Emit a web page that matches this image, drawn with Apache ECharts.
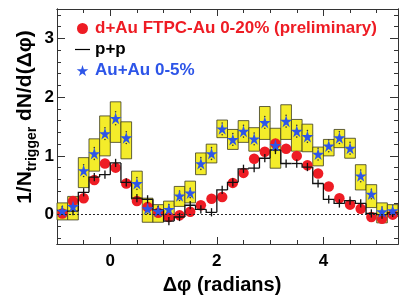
<!DOCTYPE html>
<html>
<head>
<meta charset="utf-8">
<script src="https://cdn.jsdelivr.net/npm/echarts@6/dist/echarts.min.js"></script>
<style>html,body{margin:0;padding:0;background:#fff}#c{width:407px;height:300px}</style>
</head>
<body>
<div id="c"></div>
<script>
// Bin centers (Δφ, radians)
const phi = [-0.9,-0.7,-0.5,-0.3,-0.1,0.1,0.3,0.5,0.7,0.9,1.1,1.3,1.5,1.7,1.9,2.1,2.3,2.5,2.7,2.9,3.1,3.3,3.5,3.7,3.9,4.1,4.3,4.5,4.7,4.9,5.1,5.3];
// d+Au FTPC-Au 0-20% (preliminary)
const dAu = [0.02,0.23,0.28,0.59,0.87,0.80,0.53,0.23,0.13,0.03,-0.04,-0.01,0.05,0.16,0.27,0.30,0.54,0.71,0.95,1.07,1.21,1.12,1.00,0.84,0.70,0.48,0.28,0.17,0.10,-0.04,-0.07,0.00];
// p+p histogram and its errors
const pp = [0.07,0.06,0.38,0.64,0.68,0.88,0.55,0.28,0.26,0.08,-0.11,-0.04,0.16,0.09,0.04,0.42,0.55,0.78,0.79,0.96,1.10,0.87,0.87,0.81,0.53,0.26,0.19,0.24,0.19,0.02,0.00,0.03];
const ppErr = [0.07,0.07,0.07,0.07,0.07,0.07,0.07,0.07,0.07,0.07,0.07,0.07,0.07,0.07,0.07,0.07,0.07,0.07,0.07,0.07,0.07,0.07,0.07,0.07,0.07,0.07,0.07,0.07,0.07,0.07,0.07,0.07];
// Au+Au 0-5%: values, stat errors, systematic band
const auAu = [0.06,0.14,0.75,1.04,1.38,1.64,1.31,0.53,0.10,0.06,0.09,0.32,0.37,0.87,1.04,1.46,1.28,1.42,1.29,1.57,1.18,1.59,1.42,1.33,1.03,1.17,1.31,1.13,0.66,0.35,0.05,0.07];
const auErr = [0.08,0.08,0.1,0.1,0.1,0.11,0.1,0.1,0.08,0.08,0.08,0.08,0.08,0.1,0.1,0.1,0.1,0.1,0.1,0.1,0.1,0.1,0.1,0.1,0.1,0.1,0.1,0.1,0.1,0.08,0.08,0.08];
const auLo = [-0.09,-0.09,0.46,0.74,1.00,1.23,0.95,0.26,-0.13,-0.13,-0.09,0.14,0.20,0.68,0.88,1.31,1.11,1.23,1.08,1.28,0.79,1.28,1.08,1.07,0.83,1.00,1.14,0.96,0.42,0.12,-0.14,-0.03];
const auHi = [0.20,0.31,0.97,1.29,1.68,1.92,1.58,0.74,0.28,0.17,0.23,0.48,0.57,1.05,1.20,1.61,1.45,1.60,1.48,1.84,1.47,1.87,1.62,1.54,1.15,1.28,1.45,1.30,0.85,0.51,0.20,0.17];
// Axis ticks
const xMajor = [0, 2, 4];
const xMinor = [-0.5,0.5,1,1.5,2.5,3,3.5,4.5,5];
const yMajor = [0, 1, 2, 3];
const yMinor = [-0.4,-0.2,0.2,0.4,0.6,0.8,1.2,1.4,1.6,1.8,2.2,2.4,2.6,2.8,3.2,3.4];

const HALF = 0.1;
const FONT = '"Liberation Sans", Arial, Helvetica, sans-serif';
const RED = '#ee1c24', BLUE = '#2d55e8', YELLOW = '#f4ec2a';
const STAR = 'path://M50,0 L61,35 L98,35 L68,57 L79,91 L50,70 L21,91 L32,57 L2,35 L39,35 Z';

function xAx(pos, ticks, len, label) {
  return {
    type: 'value', position: pos, min: -1, max: 5.4, gridIndex: 0,
    axisLine: { show: true, onZero: false, lineStyle: { color: '#333', width: 1 } },
    axisTick: { show: true, inside: true, length: len, customValues: ticks, lineStyle: { color: '#333', width: 1 } },
    axisLabel: label ? { show: true, customValues: ticks, margin: 9, color: '#000', fontSize: 17, fontWeight: 'bold', fontFamily: FONT } : { show: false },
    splitLine: { show: false }
  };
}
function yAx(pos, ticks, len, label) {
  return {
    type: 'value', position: pos, min: -0.5, max: 3.5, gridIndex: 0,
    axisLine: { show: true, onZero: false, lineStyle: { color: '#333', width: 1 } },
    axisTick: { show: true, inside: true, length: len, customValues: ticks, lineStyle: { color: '#333', width: 1 } },
    axisLabel: label ? { show: true, customValues: ticks, margin: 3, color: '#000', fontSize: 17, fontWeight: 'bold', fontFamily: FONT } : { show: false },
    splitLine: { show: false }
  };
}

const chart = echarts.init(document.getElementById('c'), null, { renderer: 'canvas' });
chart.setOption({
  animation: false,
  backgroundColor: '#fff',
  grid: { left: 57, right: 9, top: 9, bottom: 56 },
  xAxis: [xAx('bottom', xMajor, 7, true), xAx('bottom', xMinor, 4, false), xAx('top', xMajor, 7, false), xAx('top', xMinor, 4, false)],
  yAxis: [yAx('left', yMajor, 8, true), yAx('left', yMinor, 4, false), yAx('right', yMajor, 8, false), yAx('right', yMinor, 4, false)],
  legend: {
    orient: 'vertical', left: 75, top: 20, padding: 0, itemWidth: 15, itemHeight: 11, itemGap: 4,
    selectedMode: false,
    textStyle: { fontSize: 17, fontWeight: 'bold', fontFamily: FONT, padding: [0, 0, 0, 0] },
    data: [
      { name: 'd+Au FTPC-Au 0-20% (preliminary)', icon: 'circle', itemStyle: { color: RED }, textStyle: { color: RED } },
      { name: 'p+p', icon: 'path://M0,0L15,0L15,1.2L0,1.2Z', itemStyle: { color: '#000' }, textStyle: { color: '#000' } },
      { name: 'Au+Au 0-5%', icon: STAR, itemStyle: { color: BLUE }, textStyle: { color: BLUE } }
    ]
  },
  graphic: [
    { type: 'text', x: 222, y: 285, style: { text: 'Δφ (radians)', font: 'bold 20px ' + FONT, fill: '#000', align: 'center', verticalAlign: 'middle' } },
    { type: 'text', x: 25, y: 117, rotation: Math.PI / 2,
      style: { text: '{a|1/N}{b|trigger}{a| dN/d(Δφ)}', align: 'center', verticalAlign: 'middle', fill: '#000',
        rich: { a: { fontSize: 21, fontWeight: 'bold', fontFamily: FONT, fill: '#000' },
                b: { fontSize: 14, fontWeight: 'bold', fontFamily: FONT, fill: '#000', padding: [14, 0, 0, 0] } } } }
  ],
  series: [
    {
      name: 'Au+Au sys', type: 'custom', xAxisIndex: 0, yAxisIndex: 0, z: 1,
      data: phi.map((x, i) => [x, auLo[i], auHi[i], auAu[i], auErr[i]]),
      renderItem: function (params, api) {
        const x = api.value(0);
        const p0 = api.coord([x - HALF, api.value(2)]);
        const p1 = api.coord([x + HALF, api.value(1)]);
        const c = api.coord([x, api.value(3) + api.value(4)]);
        const d = api.coord([x, api.value(3) - api.value(4)]);
        return { type: 'group', children: [
          { type: 'rect', shape: { x: p0[0], y: p0[1], width: p1[0] - p0[0], height: p1[1] - p0[1] },
            style: { fill: YELLOW, stroke: '#3a3a20', lineWidth: 0.8 } },
          { type: 'circle', shape: { cx: c[0], cy: c[1], r: 0.8 }, style: { fill: '#333' } },
          { type: 'circle', shape: { cx: d[0], cy: d[1], r: 0.8 }, style: { fill: '#333' } }
        ] };
      }
    },
    {
      name: 'd+Au FTPC-Au 0-20% (preliminary)', type: 'scatter', xAxisIndex: 0, yAxisIndex: 0, z: 2,
      symbol: 'circle', symbolSize: 10.5, itemStyle: { color: RED, opacity: 1 },
      data: phi.map((x, i) => [x, dAu[i]]),
      markLine: { silent: true, symbol: 'none', label: { show: false },
        lineStyle: { type: [2, 2], color: '#222', width: 1.2 }, data: [{ yAxis: 0 }] }
    },
    {
      name: 'p+p', type: 'custom', xAxisIndex: 0, yAxisIndex: 0, z: 3,
      itemStyle: { color: '#000' },
      data: phi.map((x, i) => [x, pp[i], ppErr[i]]),
      renderItem: function (params, api) {
        const i = params.dataIndex;
        const x = api.value(0), y = api.value(1), e = api.value(2);
        const prev = i > 0 ? pp[i - 1] : y;
        const a = api.coord([x - HALF, prev]);
        const b = api.coord([x - HALF, y]);
        const c = api.coord([x + HALF, y]);
        const t = api.coord([x, y + e]);
        const u = api.coord([x, y - e]);
        return { type: 'group', children: [
          { type: 'polyline', shape: { points: [a, b, c] }, style: { stroke: '#111', lineWidth: 1.3, fill: null } },
          { type: 'line', shape: { x1: t[0], y1: t[1], x2: u[0], y2: u[1] }, style: { stroke: '#111', lineWidth: 1.3 } }
        ] };
      }
    },
    {
      name: 'Au+Au 0-5%', type: 'scatter', xAxisIndex: 0, yAxisIndex: 0, z: 4,
      symbol: STAR, symbolSize: 12, itemStyle: { color: BLUE, opacity: 1 },
      data: phi.map((x, i) => [x, auAu[i]])
    }
  ]
});
</script>
</body>
</html>
